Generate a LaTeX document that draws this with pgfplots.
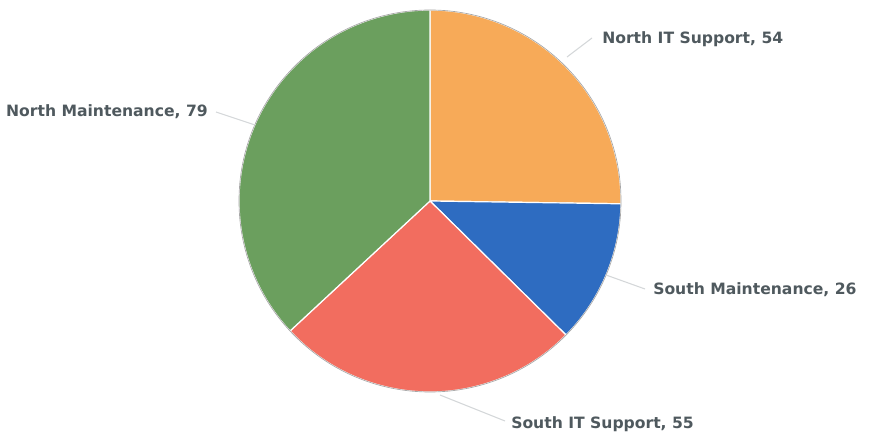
\documentclass[border=0pt]{standalone}
\usepackage{pgfplots}
\usepackage{pgfplotstable}
\pgfplotsset{compat=1.18}
\usepackage{fontspec}
\setmainfont{DejaVu Sans}
\definecolor{slice0}{HTML}{F7AA58}
\definecolor{slice1}{HTML}{2E6CC1}
\definecolor{slice2}{HTML}{F26D5F}
\definecolor{slice3}{HTML}{6B9F5E}
\definecolor{lbl}{HTML}{4F595E}
\definecolor{conn}{HTML}{D4D7D9}
\pgfplotstableread[col sep=comma]{
name,value
North IT Support,54
South Maintenance,26
South IT Support,55
North Maintenance,79
}\piedata
\begin{document}
\begin{tikzpicture}
\pgfmathsetmacro\total{0}
\pgfplotsforeachungrouped \i in {0,...,3}{%
  \pgfplotstablegetelem{\i}{value}\of\piedata
  \pgfmathsetmacro\total{\total+\pgfplotsretval}%
}
\pgfmathsetmacro\scl{360/\total}
\begin{axis}[hide axis, scale only axis, width=653.25pt, height=326.25pt,
  xmin=0, xmax=871, ymin=0, ymax=435, clip=false]
\path (axis cs:0,0) rectangle (axis cs:871,435);
\def\cum{0}
\pgfplotsforeachungrouped \i in {0,...,3}{%
  \pgfplotstablegetelem{\i}{value}\of\piedata
  \let\vv\pgfplotsretval
  \pgfmathsetmacro\a{90-\scl*\cum}%
  \pgfmathsetmacro\b{90-\scl*(\cum+\vv)}%
  \pgfmathsetmacro\cum{\cum+\vv}%
  \edef\cmd{\noexpand\addplot[fill=slice\i, draw=white, line width=0.9pt, line join=round, domain=\b:\a, samples=90]
    ({430+191*cos(x)},{234+191*sin(x)}) -- (axis cs:430,234) -- cycle;}%
  \cmd
}
\draw[gray!70, line width=0.5pt] (axis cs:430,234) circle[radius=143.25pt];
% connectors
\draw[conn, line width=0.8pt] (axis cs:567,378) -- (axis cs:592,397);
\draw[conn, line width=0.8pt] (axis cs:606,160) -- (axis cs:645,146);
\draw[conn, line width=0.8pt] (axis cs:440,40) -- (axis cs:505,14);
\draw[conn, line width=0.8pt] (axis cs:255,310) -- (axis cs:216,323);
% labels
\node[anchor=west, text=lbl, font=\fontsize{11.7pt}{14pt}\selectfont\bfseries, inner sep=0pt] at (axis cs:602,396) {North IT Support, 54};
\node[anchor=west, text=lbl, font=\fontsize{11.7pt}{14pt}\selectfont\bfseries, inner sep=0pt] at (axis cs:653,145) {South Maintenance, 26};
\node[anchor=west, text=lbl, font=\fontsize{11.7pt}{14pt}\selectfont\bfseries, inner sep=0pt] at (axis cs:511,11) {South IT Support, 55};
\node[anchor=east, text=lbl, font=\fontsize{11.7pt}{14pt}\selectfont\bfseries, inner sep=0pt] at (axis cs:208,323) {North Maintenance, 79};
\end{axis}
\end{tikzpicture}
\end{document}
